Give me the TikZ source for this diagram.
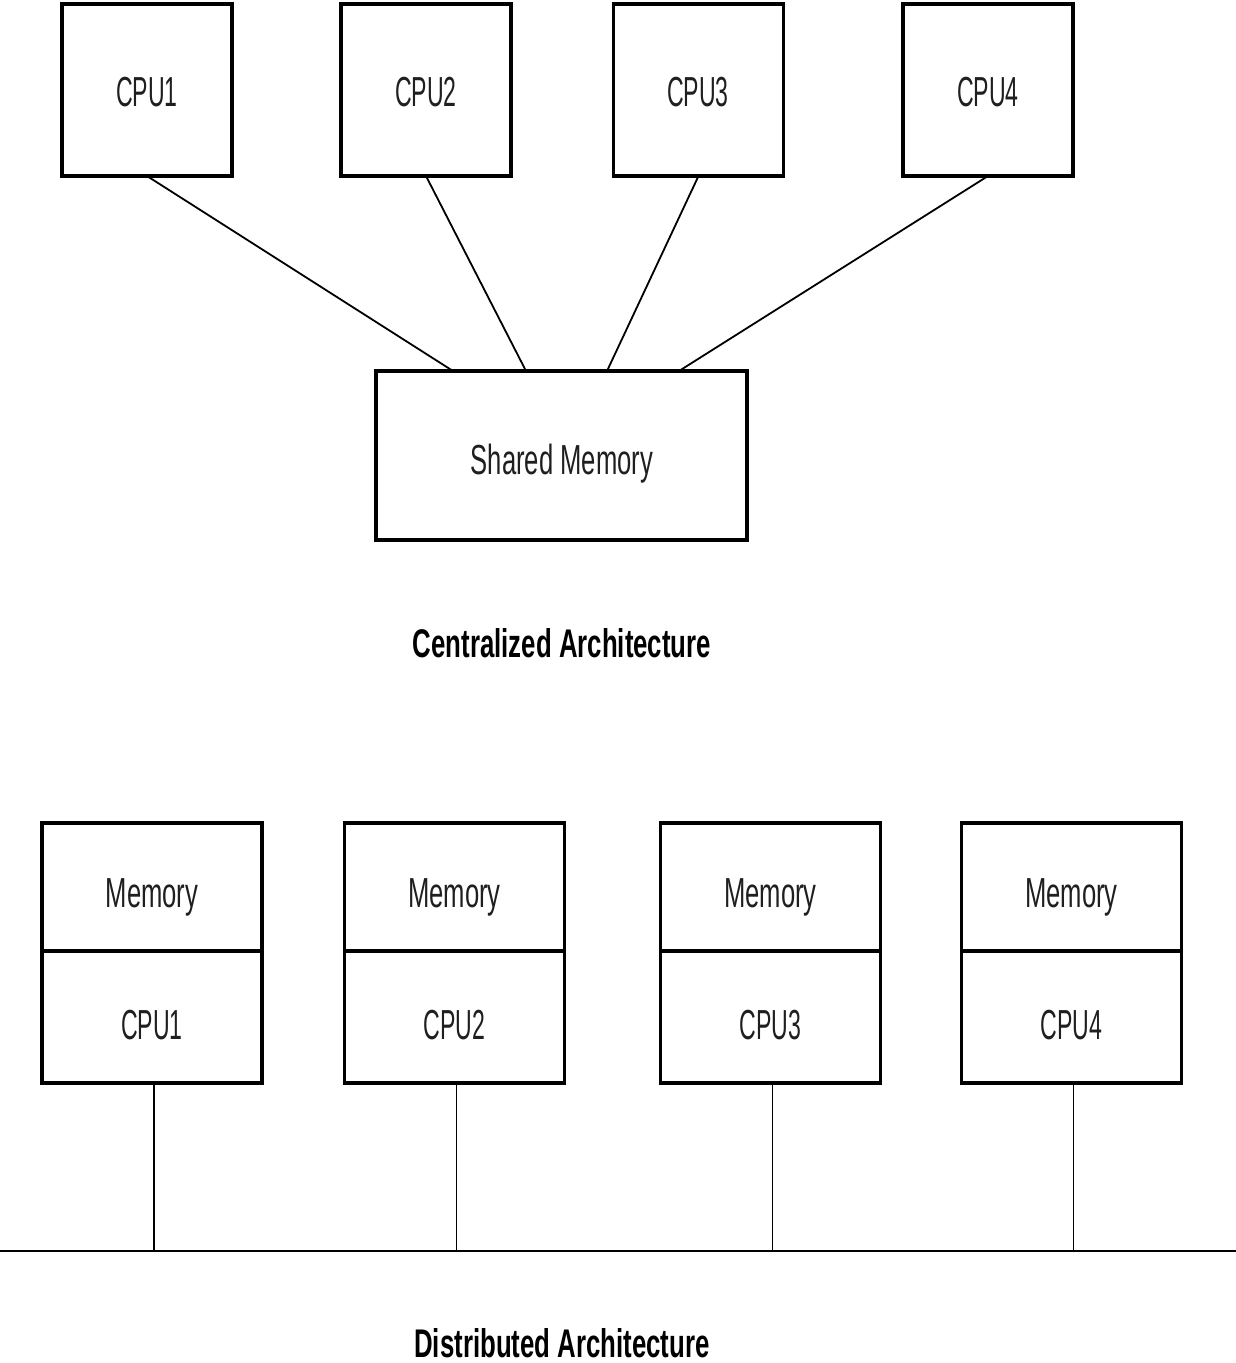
\documentclass[tikz,border=0pt]{standalone}
\usepackage{fontspec}
\newfontfamily\cpufont{Liberation Sans}[FakeStretch=0.55]
\newfontfamily\labfont{Liberation Sans}[FakeStretch=0.61]
\newfontfamily\titlefont{Liberation Sans}[FakeStretch=0.645]
\begin{document}
\begin{tikzpicture}[x=1pt,y=-1pt,
  box/.style={draw=black, line width=3.4pt, fill=white, inner sep=0pt, outer sep=0pt},
  cpubox/.style={box, minimum width=170pt, minimum height=172pt},
  unitbox/.style={box, minimum width=220pt},
  cpulab/.style={anchor=base, inner sep=0pt, text=black!88, font=\cpufont\fontsize{42}{48}\selectfont},
  memlab/.style={anchor=base, inner sep=0pt, text=black!88, font=\labfont\fontsize{42}{48}\selectfont},
  title/.style={anchor=base, inner sep=0pt, font=\titlefont\bfseries\fontsize{40}{46}\selectfont},
  link/.style={line width=1.8pt},
  drop/.style={line width=1.2pt},
  busline/.style={line width=2.8pt}]
\useasboundingbox (0,0) rectangle (1236,1363);

% ---- centralized: four CPUs sharing one memory ----
\node[cpubox] (cpuA) at (147,90) {};
\node[cpubox] (cpuB) at (426,90) {};
\node[cpubox] (cpuC) at (698.5,90) {};
\node[cpubox] (cpuD) at (988,90) {};
\node[cpulab] (lA) at (147,106) {CPU1};
\node[cpulab] (lB) at (426,106) {CPU2};
\node[cpulab] (lC) at (698,106) {CPU3};
\node[cpulab] (lD) at (988,106) {CPU4};

\node[box, minimum width=371pt, minimum height=169pt] (shm) at (561.5,455.5) {};
\node[memlab] (lshm) at (562,474) {Shared Memory};

\draw[link] (cpuA.south) -- ([xshift=-108.5pt]shm.north);
\draw[link] (cpuB.south) -- ([xshift=-35.5pt]shm.north);
\draw[link] (cpuC.south) -- ([xshift=45.5pt]shm.north);
\draw[link] (cpuD.south) -- ([xshift=117.5pt]shm.north);

\node[title] (tcent) at (562,657) {Centralized Architecture};

% ---- distributed: each CPU with its own memory on a common bus ----
\foreach \i/\x/\n in {1/152/1, 2/454.5/2, 3/770.5/3, 4/1071.5/4}{
  \node[unitbox, minimum height=128pt] (mem\i) at (\x,887) {};
  \node[unitbox, minimum height=132pt] (cpu\i) at (\x,1017) {};
  \node[memlab] (lm\i) at (\x,907) {Memory};
  \node[cpulab] (lc\i) at (\x,1039) {CPU\n};
}

\coordinate (busL) at (0,1251);
\coordinate (busR) at (1236,1251);
\draw[busline] (busL) -- (busR);
\foreach \i in {1,2,3,4}{
  \draw[drop] ([xshift=2pt]cpu\i.south) -- ([xshift=2pt]cpu\i.south |- busL);
}

\node[title] (tdist) at (562,1357) {Distributed Architecture};
\end{tikzpicture}
\end{document}
